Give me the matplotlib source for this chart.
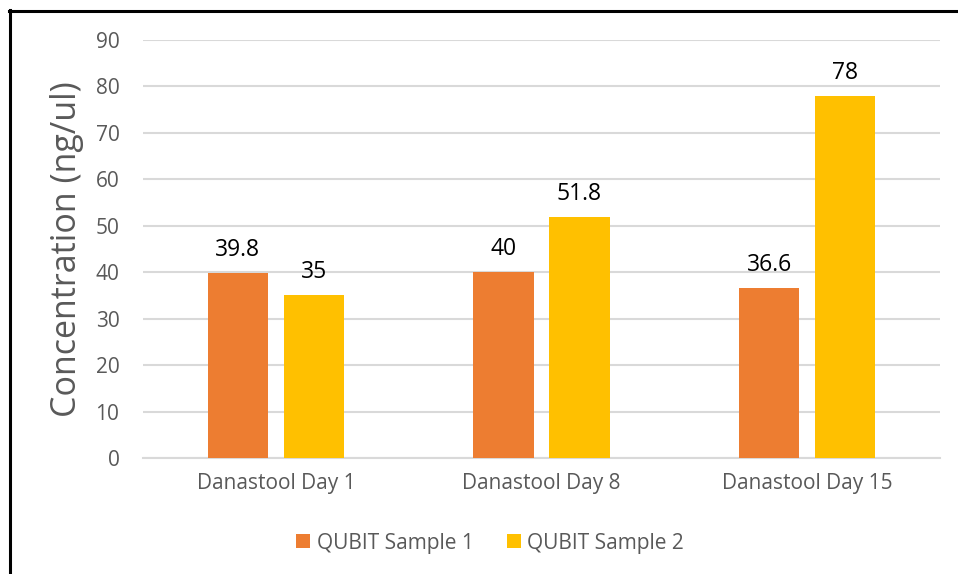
import numpy as np
import matplotlib.pyplot as plt
from matplotlib.lines import Line2D

categories = ["Danastool Day 1", "Danastool Day 8", "Danastool Day 15"]
sample1 = [39.8, 40, 36.6]
sample2 = [35, 51.8, 78]
series_names = ["QUBIT Sample 1", "QUBIT Sample 2"]

plt.rcParams['font.family'] = ['Open Sans', 'DejaVu Sans']

fig = plt.figure(figsize=(9.58, 5.74), dpi=100)
ax = fig.add_axes([143/958, 1-458/574, (940-143)/958, (458-40)/574])

x = np.arange(len(categories))
w = 0.226
off = 0.143
colors = ['#ED7D31', '#FFC000']
b1 = ax.bar(x-off, sample1, w, color=colors[0], label=series_names[0], zorder=3)
b2 = ax.bar(x+off, sample2, w, color=colors[1], label=series_names[1], zorder=3)

for bars, vals in ((b1, sample1), (b2, sample2)):
    for r, v in zip(bars, vals):
        ax.annotate(f"{v:g}", (r.get_x()+r.get_width()/2, v), xytext=(0, 8),
                    textcoords='offset points', ha='center', va='bottom',
                    fontsize=16.5, color='black')

ax.set_xlim(-0.5, 2.5)
ax.set_ylim(0, 90)
ax.set_yticks(range(0, 91, 10))
ax.set_xticks(x)
ax.set_xticklabels(categories)
ax.yaxis.grid(True, color='#d9d9d9', linewidth=1.5, zorder=0)
for s in ['top', 'right', 'left']:
    ax.spines[s].set_visible(False)
ax.spines['bottom'].set_color('#d9d9d9')
ax.spines['bottom'].set_linewidth(1.5)
ax.tick_params(axis='both', length=0, labelsize=15, colors='#595959')
ax.tick_params(axis='y', pad=17)
ax.tick_params(axis='x', pad=11)
ax.set_ylabel("Concentration (ng/ul)", fontsize=24.5, color='#595959', labelpad=8)

fig.legend(handles=[b1, b2], loc='center', bbox_to_anchor=(490/958, 1-543/574),
           ncol=2, frameon=False, fontsize=15, handlelength=0.67, handleheight=0.67,
           columnspacing=1.6, handletextpad=0.3, labelcolor='#595959')

# black border on left and top
fig.add_artist(Line2D([9.5/958, 9.5/958], [0, 1-10/574], color='black', linewidth=2.2,
                      transform=fig.transFigure))
fig.add_artist(Line2D([8.5/958, 1], [1-10.5/574, 1-10.5/574], color='black', linewidth=2.2,
                      transform=fig.transFigure))

fig.savefig("out.png", dpi=100)
